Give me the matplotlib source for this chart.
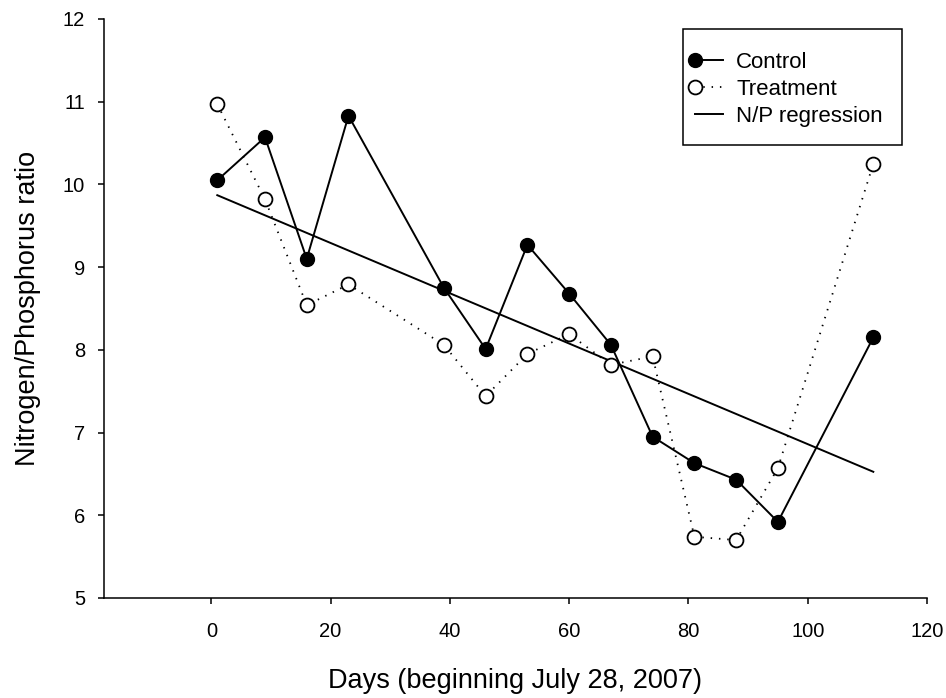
import numpy as np
import matplotlib
matplotlib.use("Agg")
import matplotlib.pyplot as plt
from matplotlib.patches import Rectangle
from matplotlib.legend_handler import HandlerLine2D

plt.rcParams['font.family'] = ['Liberation Sans', 'DejaVu Sans']

# Data
days = [1, 9, 16, 23, 39, 46, 53, 60, 67, 74, 81, 88, 95, 111]
control = [10.05, 10.57, 9.10, 10.83, 8.75, 8.01, 9.27, 8.68, 8.06, 6.95, 6.63, 6.43, 5.92, 8.15]
treatment = [10.97, 9.82, 8.54, 8.79, 8.06, 7.44, 7.95, 8.19, 7.82, 7.92, 5.74, 5.70, 6.57, 10.25]

# N/P regression (intercept, slope)
REG_B0 = 9.90
REG_B1 = -0.0304

xticks = [0, 20, 40, 60, 80, 100, 120]
yticks = [5, 6, 7, 8, 9, 10, 11, 12]

#-------------------------------------------------------------------------------

class LeftMarkerHandler(HandlerLine2D):
    # marker sits at the left end of the legend line, like SigmaPlot
    def create_artists(self, *args, **kwargs):
        artists = super().create_artists(*args, **kwargs)
        for a in artists:
            a.set_markevery([0])
        return artists


fig = plt.figure(figsize=(9.46, 6.98), dpi=100)
ax = fig.add_axes([0.1099, 0.1433, 0.870, 0.8295])

dotted = (0, (0.8, 3.8))
l_ctrl, = ax.plot(days, control, '-', color='black', lw=1.4, marker='o', ms=10,
                  mfc='black', mec='black', label='Control', zorder=3)
l_trt, = ax.plot(days, treatment, linestyle=dotted, color='black', lw=1.3,
                 marker='o', ms=10, mfc='white', mec='black', mew=1.3,
                 label='Treatment', zorder=3)

xr = np.array([days[0], days[-1]])
l_reg, = ax.plot(xr, REG_B0 + REG_B1*xr, '-', color='black', lw=1.4,
                 label='N/P regression')

ax.set_xlim(-18, 120)
ax.set_ylim(5, 12)
ax.set_xticks(xticks)
ax.set_yticks(yticks)
ax.tick_params(direction='out', length=4.5, width=1.1, labelsize=14.5, color='black')
ax.tick_params(axis='x', pad=13)
ax.tick_params(axis='y', pad=9)
for side in ['top', 'right']:
    ax.spines[side].set_visible(False)
for side in ['left', 'bottom']:
    ax.spines[side].set_linewidth(1.1)

ax.set_xlabel('Days (beginning July 28, 2007)', fontsize=19.5, labelpad=19)
ax.set_ylabel('Nitrogen/Phosphorus ratio', fontsize=19.5, labelpad=16)

# legend box drawn separately so its padding matches the original
box = Rectangle((0.7035, 0.7824), 0.9696 - 0.7035, 0.9827 - 0.7824,
                transform=ax.transAxes, facecolor='white', edgecolor='black',
                lw=1.1, zorder=5, clip_on=False)
ax.add_patch(box)

leg = ax.legend(handles=[l_ctrl, l_trt, l_reg], loc='upper left',
                bbox_to_anchor=(0.718, 0.943), borderaxespad=0, borderpad=0,
                fontsize=16, frameon=False, handlelength=1.25, handletextpad=0.6,
                labelspacing=0.27, numpoints=1,
                handler_map={l_ctrl: LeftMarkerHandler(), l_trt: LeftMarkerHandler()})
leg.set_zorder(6)

fig.savefig('out.png', dpi=100)
